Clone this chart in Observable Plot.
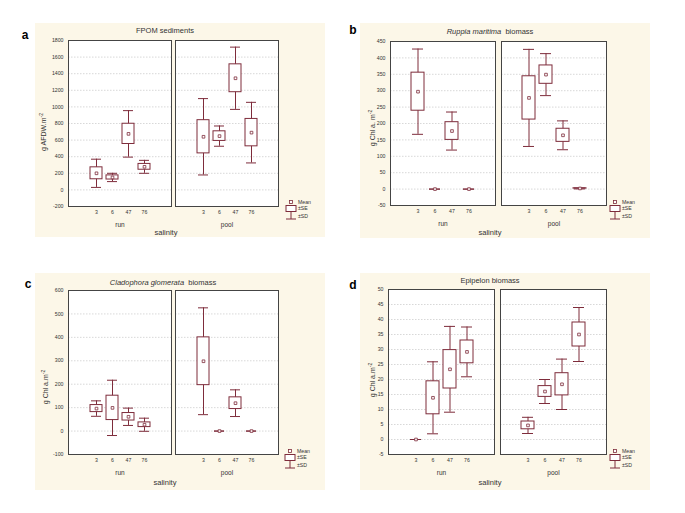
<!DOCTYPE html>
<html><head><meta charset="utf-8">
<script src="https://cdn.jsdelivr.net/npm/d3@7"></script>
<script src="https://cdn.jsdelivr.net/npm/@observablehq/plot@0.6"></script>
<style>
body{margin:0;background:#fff;font-family:"Liberation Sans",Arial,sans-serif;}
#root{position:relative;width:685px;height:513px;overflow:hidden;background:#fff;}
.panel{position:absolute;background:#fcf7e8;}
.panel svg{position:absolute;left:0;top:0;}
.t{position:absolute;white-space:nowrap;color:#333;line-height:1;}
</style></head><body><div id="root"></div>
<script>
// ---- categories ----
const salinity = ["3", "6", "47", "76"];
const habitat = ["run", "pool"];

// ---- values (run 3,6,47,76 then pool 3,6,47,76) ----
const fpomMean = [200, 150, 675, 278, 640, 648, 1345, 690];
const fpomSE   = [72, 25, 122, 35, 200, 58, 168, 165];
const fpomSD   = [170, 50, 280, 78, 460, 122, 375, 365];

const ruppiaMean = [297, 0, 177, 0, 278, 349, 164, 2];
const ruppiaSE   = [58, 0, 27, 0, 66, 28, 20, 0.6];
const ruppiaSD   = [130, 0, 58, 0, 148, 64, 44, 1.5];

const cladoMean = [96, 99, 61, 27, 298, 0, 119, 0];
const cladoSE   = [15, 52, 16, 10, 102, 0, 25, 0];
const cladoSD   = [33, 118, 37, 28, 228, 0, 57, 0];

const epiMean = [0, 13.9, 23.4, 29.2, 4.7, 16, 18.4, 35];
const epiSE   = [0, 5.5, 6.4, 3.8, 1.3, 1.8, 3.7, 4];
const epiSD   = [0, 12, 14.3, 8.3, 2.7, 4, 8.4, 9];

// ---- tick labels ----
const fpomTicks = d3.range(-200, 1801, 200);
const ruppiaTicks = d3.range(-50, 451, 50);
const cladoTicks = d3.range(-100, 601, 100);
const epiTicks = d3.range(-5, 51, 5);

const C = "#7e2c3b";
const root = document.getElementById("root");

function text(parent, html, x, y, style, rotate) {
  const el = document.createElement("div");
  el.className = "t";
  el.innerHTML = html;
  Object.assign(el.style, style || {});
  el.style.left = x + "px";
  el.style.top = y + "px";
  el.style.transform = "translate(-50%,-50%)" + (rotate ? " rotate(-90deg)" : "");
  parent.appendChild(el);
}

function legend(x0, y0) {
  const ns = "http://www.w3.org/2000/svg";
  const svg = document.createElementNS(ns, "svg");
  svg.setAttribute("width", 40); svg.setAttribute("height", 26);
  svg.style.position = "absolute";
  svg.style.left = (x0 - 8) + "px"; svg.style.top = (y0 - 5) + "px";
  svg.innerHTML = `
    <g transform="translate(8,5)" stroke="${C}" fill="white" stroke-width="1">
      <rect x="-1.5" y="-1.5" width="3" height="3" stroke-width="0.8"/>
      <rect x="-5" y="3.5" width="10" height="6"/>
      <line x1="0" y1="9.5" x2="0" y2="17" />
      <line x1="-5" y1="17" x2="5" y2="17" />
    </g>
    <g font-family="Liberation Sans, Arial" font-size="5.2" fill="#333">
      <text x="15" y="5" dy="0.35em">Mean</text>
      <text x="15" y="11.5" dy="0.35em">±SE</text>
      <text x="15" y="19.5" dy="0.35em">±SD</text>
    </g>`;
  root.appendChild(svg);
}

function chart(cfg) {
  const rows = cfg.mean.map((m, i) => ({
    hab: habitat[Math.floor(i / 4)], sal: salinity[i % 4],
    mean: m, se: cfg.se[i], sd: cfg.sd[i]
  }));
  const panel = document.createElement("div");
  panel.className = "panel";
  Object.assign(panel.style, {left: cfg.left + "px", top: cfg.top + "px", width: cfg.width + "px", height: cfg.height + "px"});
  root.appendChild(panel);
  const p = Plot.plot({
    width: cfg.width, height: cfg.height,
    marginLeft: cfg.m[0], marginRight: cfg.m[1], marginTop: cfg.m[2], marginBottom: cfg.m[3],
    style: {background: "transparent", fontFamily: "Liberation Sans, Arial", fontSize: "5.2px", color: "#333"},
    fx: {domain: habitat, paddingInner: cfg.gap, paddingOuter: 0, label: null},
    x: {domain: salinity, type: "band", paddingInner: 0.25, paddingOuter: 1.185, label: null},
    y: {domain: cfg.domain, label: null},
    marks: [
      Plot.frame({fill: "white", stroke: null}),
      Plot.gridY(cfg.ticks, {stroke: "#bdbdbd", strokeOpacity: 1, strokeDasharray: "1.5,1.5", strokeWidth: 0.6}),
      Plot.ruleX(rows, {fx: "hab", x: "sal", y1: d => d.mean - d.sd, y2: d => d.mean + d.sd, stroke: C, strokeWidth: 1}),
      Plot.tickY(rows, {fx: "hab", x: "sal", y: d => d.mean + d.sd, stroke: C, inset: 1, strokeWidth: 1}),
      Plot.tickY(rows, {fx: "hab", x: "sal", y: d => d.mean - d.sd, stroke: C, inset: 1, strokeWidth: 1}),
      Plot.barY(rows, {fx: "hab", x: "sal", y1: d => d.mean - d.se, y2: d => d.mean + d.se, fill: "white", stroke: C, strokeWidth: 1}),
      Plot.dot(rows, {fx: "hab", x: "sal", y: "mean", symbol: "square", r: 1.5, stroke: C, fill: "white", strokeWidth: 0.8}),
      Plot.frame({stroke: "#444", strokeWidth: 1}),
      Plot.axisY(cfg.ticks, {tickSize: 0, tickPadding: 5, label: null, tickFormat: d => String(d)}),
      Plot.axisX({tickSize: 0, tickPadding: 4, label: null}),
      Plot.axisFx({anchor: "bottom", tickSize: 0, tickPadding: 16, label: null, fontSize: "6.5px"})
    ]
  });
  panel.appendChild(p);
  text(root, cfg.title, cfg.titlePos[0], cfg.titlePos[1], {fontSize: "7.5px"});
  text(root, "salinity", cfg.salPos[0], cfg.salPos[1], {fontSize: "7.5px"});
  text(root, cfg.ylabel, cfg.yPos[0], cfg.yPos[1], {fontSize: "7px"}, true);
  text(root, cfg.letter, cfg.letterPos[0], cfg.letterPos[1], {fontSize: "12px", fontWeight: "bold", color: "#000"});
  legend(cfg.legendPos[0], cfg.legendPos[1]);
}

chart({
  left: 35, top: 23, width: 290, height: 214, m: [33, 46, 17, 31], gap: 0.037,
  domain: [-200, 1800], ticks: fpomTicks, mean: fpomMean, se: fpomSE, sd: fpomSD,
  title: "FPOM sediments", titlePos: [165, 31], salPos: [166, 233],
  ylabel: "g AFDW.m<sup style='font-size:5px'>-2</sup>", yPos: [43, 132],
  letter: "a", letterPos: [25, 35], legendPos: [291, 202]
});
chart({
  left: 360, top: 23, width: 290, height: 215, m: [30, 43, 18, 33], gap: 0.054,
  domain: [-50, 450], ticks: ruppiaTicks, mean: ruppiaMean, se: ruppiaSE, sd: ruppiaSD,
  title: "<i>Ruppia maritima</i>&nbsp; biomass", titlePos: [490, 32], salPos: [490, 233],
  ylabel: "g Chl a. m<sup style='font-size:5px'>-2</sup>", yPos: [372, 128],
  letter: "b", letterPos: [353, 30], legendPos: [615, 202]
});
chart({
  left: 35, top: 273, width: 290, height: 217, m: [33, 46, 17, 36], gap: 0.037,
  domain: [-100, 600], ticks: cladoTicks, mean: cladoMean, se: cladoSE, sd: cladoSD,
  title: "<i>Cladophora glomerata</i>&nbsp; biomass", titlePos: [163, 283], salPos: [165, 483],
  ylabel: "g Chl a.m<sup style='font-size:5px'>-2</sup>", yPos: [45, 387],
  letter: "c", letterPos: [28, 284], legendPos: [290, 451]
});
chart({
  left: 360, top: 273, width: 290, height: 217, m: [27, 44, 16, 36], gap: 0.054,
  domain: [-5, 50], ticks: epiTicks, mean: epiMean, se: epiSE, sd: epiSD,
  title: "Epipelon biomass", titlePos: [490, 281], salPos: [490, 483],
  ylabel: "g Chl a.m<sup style='font-size:5px'>-2</sup>", yPos: [372, 380],
  letter: "d", letterPos: [353, 285], legendPos: [615, 451]
});
</script>
</body></html>
